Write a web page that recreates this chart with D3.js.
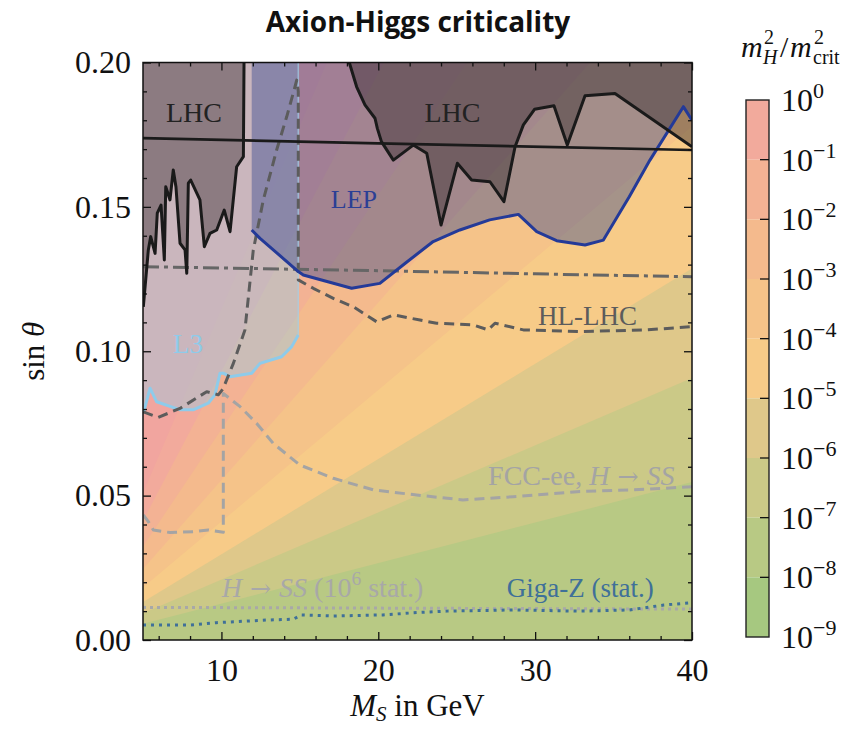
<!DOCTYPE html>
<html lang="en">
<head>
<meta charset="UTF-8">
<title>Axion-Higgs criticality</title>
<script src="https://cdnjs.cloudflare.com/ajax/libs/d3/7.9.0/d3.min.js"></script>
<style>
  body{margin:0;background:#fff}
  svg{display:block}
  text{font-family:"Liberation Serif","DejaVu Serif",serif;fill:#111}
  .title{font-family:"Open Sans",Roboto,sans-serif;font-weight:700}
  .arrow{font-family:"DejaVu Serif",serif}
</style>
</head>
<body>
<svg id="chart" width="846" height="729"></svg>
<script>
/* ---------- data ---------- */
// colour-bar levels of m_H^2/m_crit^2 (exponents of 10) and band colours, top band first
const levelExps  = [0,-1,-2,-3,-4,-5,-6,-7,-8,-9];
const bandColors = ["#f2aa9c","#f3b294","#f4ba8d","#f5c389","#f7cb88","#dfc88a","#cbc987","#b8c984","#a6c880"];
const overColor  = "#f1a59f";   // region above 10^0
// straight contour lines 10^0 ... 10^-7 : sin(theta) at M_S = 5 and at M_S = 40
const lineExps   = [0,-1,-2,-3,-4,-5,-6,-7];
const levelAt5   = [0.0509,0.0413,0.0324,0.0246,0.0182,0.0132,0.0093,0.0056];
const levelAt40  = [0.4961,0.4029,0.3163,0.2399,0.1778,0.1287,0.0907,0.0547];

// LHC exclusion (left and right pieces)
const lhcLeftX  = [5.02,5.34,5.49,5.77,5.91,6.15,6.36,6.45,6.72,6.93,7.1,7.36,7.68,7.79,7.89,8.04,8.63,8.91,9.27,9.7,10.18,10.55,10.97,11.4,11.44];
const lhcLeftY  = [0.1154,0.1351,0.1397,0.1339,0.1478,0.1506,0.1316,0.157,0.1524,0.1628,0.157,0.1374,0.1351,0.127,0.1582,0.1593,0.1524,0.1362,0.1408,0.142,0.1489,0.1414,0.1639,0.1674,0.2];
const lhcRightX = [18.15,18.62,19.15,19.79,19.94,20.2,20.96,22.23,23.09,24.0,25.04,25.95,27.12,28.01,28.72,29.25,29.96,31.2,32.05,33.18,35.09,40];
const lhcRightY = [0.2,0.1916,0.1853,0.1807,0.1772,0.1726,0.1662,0.1714,0.1686,0.1437,0.1651,0.1593,0.1587,0.1518,0.1708,0.1784,0.1838,0.185,0.1714,0.1885,0.1893,0.1708];
// LEP exclusion
const lepX = [11.93,12.46,14.9,15.22,18.3,20.1,21.7,23.5,25.2,27.1,28.93,30.1,31.37,33.18,34.35,36.0,37.32,39.45,40];
const lepY = [0.142,0.1391,0.1276,0.1264,0.1218,0.1235,0.1304,0.138,0.142,0.1455,0.1474,0.1414,0.1383,0.1368,0.1385,0.1535,0.1662,0.1847,0.18];
// L3 exclusion
const l3X = [5.02,5.45,5.87,7.36,8.2,9.16,9.59,9.91,10.12,10.55,11.93,12.46,13.84,14.48,14.9];
const l3Y = [0.0785,0.0872,0.0825,0.0797,0.0797,0.082,0.0849,0.0924,0.0924,0.0912,0.0924,0.0958,0.0981,0.1016,0.1056];
// HL-LHC projection (dark dashed)
const hlX = [5.02,5.96,7.36,9.06,9.8,10.1,10.76,11.5,12.03,12.67,13.52,14.16,14.69,14.8,14.9,14.9,15.86,17.13,18.41,19.9,20.96,22.66,23.72,26.06,27.0,27.44,29.25,32.9,37.1,40];
const hlY = [0.079,0.0771,0.0802,0.086,0.0849,0.087,0.0958,0.1074,0.135,0.1524,0.1697,0.1812,0.1916,0.1939,0.19,0.1247,0.1218,0.1183,0.1154,0.1102,0.1126,0.1108,0.1097,0.1091,0.1074,0.1097,0.1074,0.1068,0.1074,0.1085];
// FCC-ee, H -> SS (light dashed)
const fccX = [5.02,5.34,5.66,6.72,8.2,9.16,10.12,10.12,11.19,12.25,13.3,15.0,17.13,19.68,22.45,25.4,28.6,32.86,37.1,40];
const fccY = [0.0433,0.041,0.0381,0.0372,0.0375,0.0381,0.0373,0.0854,0.0808,0.075,0.0681,0.0606,0.056,0.052,0.0502,0.0485,0.0496,0.0514,0.0522,0.0531];
// dash-dot line and solid horizontal line
const ddX = [5,20,30,40];
const ddY = [0.1293,0.1279,0.1268,0.1258];
const hX  = [5,20,40];
const hY  = [0.1738,0.172,0.1697];
// H -> SS (10^6 stat.) grey dotted, Giga-Z (stat.) blue dotted
const hssX = [5,40];
const hssY = [0.0113,0.0107];
const gzX = [5,8,9.68,12.87,14.58,15.1,17.13,20.3,22.45,24.36,28.6,32.86,36.0,38.2,40];
const gzY = [0.0052,0.0052,0.006,0.0069,0.0072,0.0087,0.0083,0.0087,0.0095,0.01,0.0104,0.01,0.0104,0.0121,0.0129];

const xTicks = [10,20,30,40];
const yTicks = [0,0.05,0.1,0.15,0.2];

/* ---------- layout ---------- */
const L=143, R=692, T=62.5, B=640;
const svg = d3.select("#chart");
const x = d3.scaleLinear().domain([5,40]).range([L,R]);
const y = d3.scaleLinear().domain([0,0.2]).range([B,T]);
const zip = (a,b)=>a.map((v,i)=>[v,b[i]]);
const line = d3.line().x(d=>x(d[0])).y(d=>y(d[1]));
// band colour lookup: region just below contour 10^e
const colorBelow = e => bandColors[levelExps.indexOf(e)];

svg.append("clipPath").attr("id","plot").append("rect")
  .attr("x",L).attr("y",T).attr("width",R-L).attr("height",B-T);
const g = svg.append("g").attr("clip-path","url(#plot)");

/* ---------- contour bands ---------- */
g.append("rect").attr("x",L).attr("y",T).attr("width",R-L).attr("height",B-T)
  .attr("fill",overColor);
const under = d3.area().x(d=>x(d[0])).y0(y(0)).y1(d=>y(d[1]));
lineExps.forEach((e,i)=>{
  g.append("path").attr("d",under([[5,levelAt5[i]],[40,levelAt40[i]]]))
    .attr("fill",colorBelow(e));
});

/* ---------- exclusion fills ---------- */
const yTop = y.domain()[1], x0 = x.domain()[0], x1 = x.domain()[1];
const l3Poly  = [[x0,yTop],...zip(l3X,l3Y),[l3X[l3X.length-1],yTop]];
const lepPoly = [[lepX[0],yTop],...zip(lepX,lepY),[x1,yTop]];
const lhcL    = [[x0,yTop],...zip(lhcLeftX,lhcLeftY)];
const lhcR    = [...zip(lhcRightX,lhcRightY),[x1,yTop]];

g.append("path").attr("d",line(l3Poly)+"Z").attr("fill","#93cde8").attr("fill-opacity",0.42);
g.append("path").attr("d",line(lepPoly)+"Z").attr("fill","#2b3f8c").attr("fill-opacity",0.4);
g.append("path").attr("d",line(lhcL)+"Z").attr("fill","#382c2e").attr("fill-opacity",0.42);
g.append("path").attr("d",line(lhcR)+"Z").attr("fill","#382c2e").attr("fill-opacity",0.45);

/* ---------- lines ---------- */
function draw(xs,ys,color,w,dash,op){
  g.append("path").attr("d",line(zip(xs,ys))).attr("fill","none")
    .attr("stroke",color).attr("stroke-width",w)
    .attr("stroke-dasharray",dash||null).attr("stroke-opacity",op||1)
    .attr("stroke-linejoin","round");
}
draw([l3X[l3X.length-1],l3X[l3X.length-1]],[l3Y[l3Y.length-1],yTop],"#9fd0ea",1.5,null,0.7);
draw(l3X,l3Y,"#8ecbea",3);
draw(fccX,fccY,"#a4a4a4",3,"10,6");
draw(hlX,hlY,"#5c5c5c",3,"10,6");
draw(ddX,ddY,"#666",3,"16,5,4,5");
draw(lepX,lepY,"#243a98",3);
draw(lhcLeftX,lhcLeftY,"#1a1a1a",3);
draw(lhcRightX,lhcRightY,"#1a1a1a",3);
draw(hX,hY,"#1a1a1a",2.6);
draw(hssX,hssY,"#a8a8a8",3,"3,4");
draw(gzX,gzY,"#3f7099",3,"3,5");

/* ---------- annotations ---------- */
function label(xv,yv,size,color,anchor,parts){
  const t = svg.append("text").attr("x",x(xv)).attr("y",y(yv))
    .attr("font-size",size).attr("text-anchor",anchor).style("fill",color);
  parts.forEach(p=>{
    const s = t.append("tspan").text(p.t);
    if(p.i) s.attr("font-style","italic");
    if(p.a) s.attr("class","arrow").attr("font-size",size*0.9);
    if(p.sup) s.attr("font-size",size*0.7).attr("dy",-size*0.4);
    if(p.down) s.attr("dy",size*0.4);
  });
  return t;
}
label(8.25,0.1794,28,"#222","middle",[{t:"LHC"}]);
label(24.73,0.1794,28,"#222","middle",[{t:"LHC"}]);
label(18.45,0.1496,26,"#2b3f95","middle",[{t:"LEP"}]);
label(7.87,0.0994,27,"#8ecbea","middle",[{t:"L3"}]);
label(33.34,0.1091,27,"#5c5c5c","middle",[{t:"HL-LHC"}]);
label(27.0,0.0537,28,"#a4a4a4","start",[{t:"FCC-ee, "},{t:"H",i:1},{t:" → ",a:1},{t:"SS",i:1}]);
label(10.02,0.015,28,"#a8a8a8","start",[{t:"H",i:1},{t:" → ",a:1},{t:"SS",i:1},{t:" (10"},{t:"6",sup:1},{t:" stat.)",down:1}]);
label(28.19,0.015,27,"#3f7099","start",[{t:"Giga-Z (stat.)"}]);

/* ---------- axes ---------- */
const minorX = d3.range(6,40,2).filter(v=>!xTicks.includes(v));
const minorY = d3.range(0.01,0.2,0.01).filter(v=>!yTicks.some(t=>Math.abs(t-v)<1e-6));
function axisG(axis,tx,ty){
  const a = svg.append("g").attr("transform",`translate(${tx},${ty})`).call(axis);
  a.select(".domain").remove();
  a.selectAll("line").attr("stroke","#111").attr("stroke-width",1.3);
  return a;
}
const bx = axisG(d3.axisBottom(x).tickValues(xTicks).tickSize(-8).tickPadding(18),0,B);
bx.selectAll("text").attr("font-size",32).attr("font-family","Liberation Serif, serif").style("fill","#111");
axisG(d3.axisBottom(x).tickValues(minorX).tickSize(-4).tickFormat(""),0,B);
axisG(d3.axisTop(x).tickValues(xTicks).tickSize(-8).tickFormat(""),0,T);
axisG(d3.axisTop(x).tickValues(minorX).tickSize(-4).tickFormat(""),0,T);
const ly = axisG(d3.axisLeft(y).tickValues(yTicks).tickSize(-8).tickPadding(12).tickFormat(d3.format(".2f")),L,0);
ly.selectAll("text").attr("font-size",32).attr("font-family","Liberation Serif, serif").style("fill","#111");
axisG(d3.axisLeft(y).tickValues(minorY).tickSize(-4).tickFormat(""),L,0);
axisG(d3.axisRight(y).tickValues(yTicks).tickSize(-8).tickFormat(""),R,0);
axisG(d3.axisRight(y).tickValues(minorY).tickSize(-4).tickFormat(""),R,0);
svg.append("rect").attr("x",L).attr("y",T).attr("width",R-L).attr("height",B-T)
  .attr("fill","none").attr("stroke","#111").attr("stroke-width",1.5);

// axis titles
const xt = svg.append("text").attr("x",(L+R)/2).attr("y",716).attr("text-anchor","middle").attr("font-size",31);
xt.append("tspan").attr("font-style","italic").text("M");
xt.append("tspan").attr("font-style","italic").attr("font-size",21).attr("dy",5).text("S");
xt.append("tspan").attr("dy",-5).text(" in GeV");
const yt = svg.append("text").attr("transform",`translate(44,${(T+B)/2}) rotate(-90)`)
  .attr("text-anchor","middle").attr("font-size",31);
yt.append("tspan").text("sin ");
yt.append("tspan").attr("font-style","italic").text("θ");

svg.append("text").attr("class","title").attr("x",418).attr("y",32)
  .attr("text-anchor","middle").attr("font-size",28).text("Axion-Higgs criticality");

/* ---------- colour bar ---------- */
const cbL=746, cbW=23;
const cy = d3.scaleLinear().domain([0,-9]).range([100,637]);
bandColors.forEach((c,i)=>{
  svg.append("rect").attr("x",cbL).attr("y",cy(levelExps[i])).attr("width",cbW)
    .attr("height",cy(levelExps[i+1])-cy(levelExps[i])).attr("fill",c);
});
svg.append("rect").attr("x",cbL).attr("y",cy(0)).attr("width",cbW).attr("height",cy(-9)-cy(0))
  .attr("fill","none").attr("stroke","#222").attr("stroke-width",1.4);
levelExps.forEach(e=>{
  if(e!==0 && e!==-9){
    svg.append("line").attr("x1",cbL+cbW-9).attr("x2",cbL+cbW).attr("y1",cy(e)).attr("y2",cy(e))
      .attr("stroke","#111").attr("stroke-width",1.3);
  }
  const t = svg.append("text").attr("x",781).attr("y",cy(e)+11).attr("font-size",32);
  t.append("tspan").text("10");
  t.append("tspan").attr("font-size",22).attr("dy",-13).text(e===0?"0":"−"+(-e));
});
// colour-bar title m_H^2 / m_crit^2
const ct = svg.append("g").attr("transform","translate(741,57)");
ct.append("text").attr("font-size",30).attr("font-style","italic").text("m");
ct.append("text").attr("x",23).attr("y",-13).attr("font-size",20).text("2");
ct.append("text").attr("x",22).attr("y",7).attr("font-size",20).attr("font-style","italic").text("H");
ct.append("text").attr("x",39).attr("font-size",30).text("/");
ct.append("text").attr("x",49).attr("font-size",30).attr("font-style","italic").text("m");
ct.append("text").attr("x",73).attr("y",-13).attr("font-size",20).text("2");
ct.append("text").attr("x",72).attr("y",7).attr("font-size",20).text("crit");
</script>
</body>
</html>
